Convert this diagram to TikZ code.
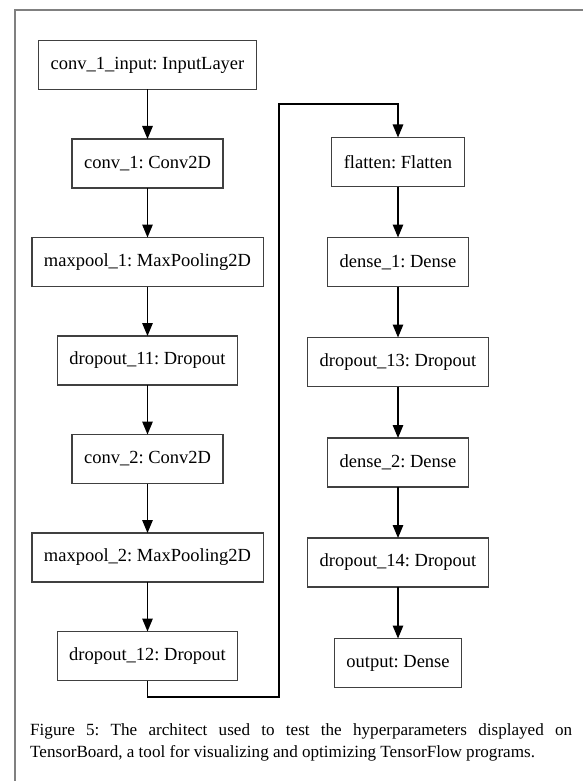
\documentclass[tikz,border=0pt]{standalone}
\usepackage{fontspec}
\setmainfont{Liberation Serif}
\usetikzlibrary{arrows.meta}
\frenchspacing

\begin{document}
\begin{tikzpicture}[x = 1pt, y = -1pt,
		layer/.style = {draw = black!75, line width = 1.1pt, minimum height = 49pt,
			inner xsep = 12pt, outer sep = 0pt,
			font = \fontsize{18.5}{22}\selectfont},
		link/.style = {line width = 1.3pt, -{Triangle[length = 13pt, width = 10.5pt]}}]
			\useasboundingbox (0, 0) rectangle (583, 781);
			\draw[gray, line width = 2pt] (583, 10) -- (15, 10) -- (15, 781);
			
			% left column
			\node[layer] (inp) at (147.5, 65) {conv\_1\_input: InputLayer};
			\node[layer] (c1) at (147.5, 163.5) {conv\_1: Conv2D};
			\node[layer] (mp1) at (147.5, 262) {maxpool\_1: MaxPooling2D};
			\node[layer] (d11) at (147.5, 360.5) {dropout\_11: Dropout};
			\node[layer] (c2) at (147.5, 459) {conv\_2: Conv2D};
			\node[layer] (mp2) at (147.5, 557.5) {maxpool\_2: MaxPooling2D};
			\node[layer] (d12) at (147.5, 656) {dropout\_12: Dropout};
			
			% right column
			\node[layer] (flat) at (398, 162) {flatten: Flatten};
			\node[layer] (dn1) at (398, 262) {dense\_1: Dense};
			\node[layer] (d13) at (398, 362) {dropout\_13: Dropout};
			\node[layer] (dn2) at (398, 462.5) {dense\_2: Dense};
			\node[layer] (d14) at (398, 562.5) {dropout\_14: Dropout};
			\node[layer] (out) at (398, 663) {output: Dense};
			
			\foreach \a/\b in {inp/c1, c1/mp1, mp1/d11, d11/c2, c2/mp2, mp2/d12,
				flat/dn1, dn1/d13, d13/dn2, dn2/d14, d14/out} {
				\draw[link] (\a) -- (\b);
			}
			
			\coordinate (lo) at (279, 697);
			\coordinate (hi) at (279, 104);
			\draw[link] (d12.south) |- (lo) -- (hi) -| (flat.north);
			
			\node[anchor = north west, inner sep = 0pt, text width = 542pt, align = justify,
				font = \fontsize{17.1}{22.5}\selectfont] (cap) at (30, 723)
				{Figure 5: The architect used to test the hyperparameters displayed on\linebreak
				TensorBoard, a tool for visualizing and optimizing TensorFlow programs.};
		\end{tikzpicture}
\end{document}
